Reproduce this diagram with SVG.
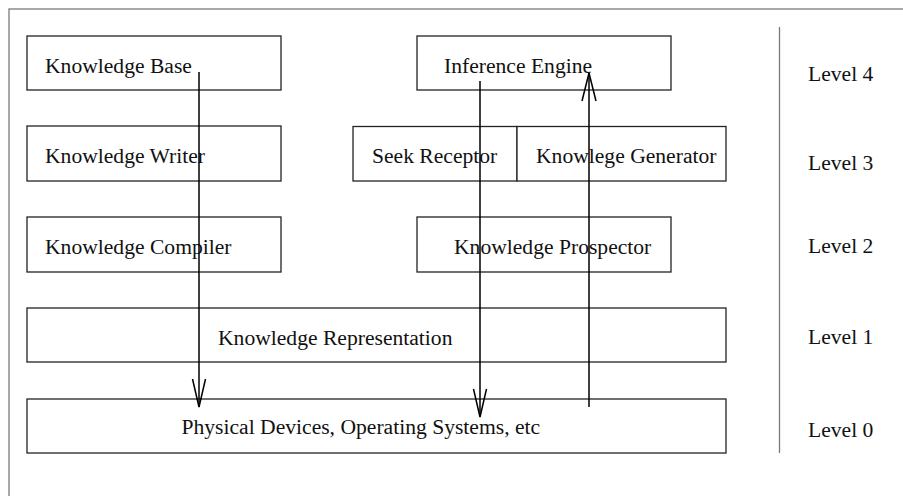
<svg xmlns="http://www.w3.org/2000/svg" width="903" height="496" viewBox="0 0 903 496">
  <style>
    .box { fill: #ffffff; stroke: #222222; stroke-width: 1.3; }
    .frame { fill: none; stroke: #7a7a7a; stroke-width: 1.3; }
    .lbl { font-family: "Liberation Serif", "Times New Roman", serif; font-size: 21.6px; fill: #111111; }
    .wire { fill: none; stroke: #000000; stroke-width: 1.5; }
    .head { fill: none; stroke: #000000; stroke-width: 1.5; stroke-linejoin: miter; }
  </style>
  <rect x="0" y="0" width="903" height="496" fill="#ffffff"/>

  <!-- outer frame and level separator -->
  <rect class="frame" x="9" y="9" width="910" height="510"/>
  <line class="frame" x1="779.5" y1="27" x2="779.5" y2="453"/>

  <g id="knowledge-base"><rect class="box" x="27" y="36" width="254" height="54"/><text class="lbl" x="45" y="72.5">Knowledge Base</text></g>
  <g id="knowledge-writer"><rect class="box" x="27" y="126" width="254" height="55"/><text class="lbl" x="45" y="163.3">Knowledge Writer</text></g>
  <g id="knowledge-compiler"><rect class="box" x="27" y="217" width="254" height="55"/><text class="lbl" x="45" y="254">Knowledge Compiler</text></g>
  <g id="inference-engine"><rect class="box" x="417" y="36" width="254" height="54"/><text class="lbl" x="444" y="72.5">Inference Engine</text></g>
  <g id="seek-receptor"><rect class="box" x="353" y="126.5" width="164" height="54.5"/><text class="lbl" x="372" y="163.3">Seek Receptor</text></g>
  <g id="knowlege-generator"><rect class="box" x="517" y="126.5" width="209" height="54.5"/><text class="lbl" x="536" y="163.3">Knowlege Generator</text></g>
  <g id="knowledge-prospector"><rect class="box" x="417" y="217" width="254" height="55"/><text class="lbl" x="454" y="254">Knowledge Prospector</text></g>
  <g id="knowledge-representation"><rect class="box" x="27" y="308" width="699" height="54"/><text class="lbl" x="218" y="344.5">Knowledge Representation</text></g>
  <g id="physical-devices"><rect class="box" x="27" y="399" width="699" height="54"/><text class="lbl" x="181.5" y="434.3">Physical Devices, Operating Systems, etc</text></g>

  <g id="level-labels">
    <text class="lbl" x="808" y="81">Level 4</text>
    <text class="lbl" x="808" y="169.5">Level 3</text>
    <text class="lbl" x="808" y="253">Level 2</text>
    <text class="lbl" x="808" y="344">Level 1</text>
    <text class="lbl" x="808" y="437">Level 0</text>
  </g>

  <g id="connectors">
    <line class="wire" x1="199" y1="72" x2="199" y2="407"/>
    <polyline class="head" points="192.5,379 199,407 205.5,379"/>
    <line class="wire" x1="480" y1="81" x2="480" y2="417"/>
    <polyline class="head" points="473.5,389 480,417 486.5,389"/>
    <line class="wire" x1="589" y1="407" x2="589" y2="73"/>
    <polyline class="head" points="582,101 589,73 596,101"/>
  </g>
</svg>
